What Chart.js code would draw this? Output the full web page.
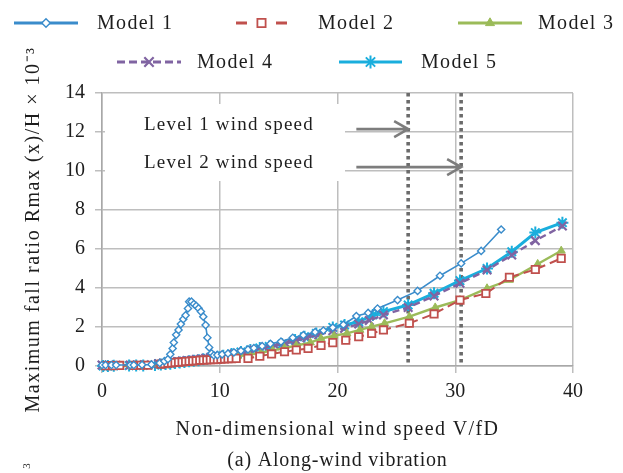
<!DOCTYPE html>
<html><head><meta charset="utf-8">
<script src="https://cdn.jsdelivr.net/npm/chart.js@4.4.1/dist/chart.umd.min.js"></script>
<style>html,body{margin:0;padding:0;background:#fff;}canvas{display:block;}</style>
</head><body>
<canvas id="c" width="623" height="473"></canvas>
<script>
// ---- data ----
const seriesNames = ['Model 1', 'Model 2', 'Model 3', 'Model 4', 'Model 5'];

const model1X = [0.0,0.3,0.8,1.2,2.4,2.7,3.4,4.2,4.9,5.3,5.6,5.8,6.0,6.1,6.3,6.5,6.7,6.9,7.1,7.3,7.4,7.6,7.8,8.0,8.2,8.4,8.6,8.8,8.95,9.1,9.3,9.5,9.8,10.2,10.7,11.2,11.8,12.4,12.9,13.6,14.3,15.2,16.2,17.1,18.1,18.8,19.6,20.5,21.6,22.6,23.4,25.1,26.8,28.7,30.5,32.2,33.9];
const model1Y = [0.05,0.05,0.05,0.05,0.05,0.05,0.06,0.08,0.15,0.25,0.35,0.6,0.9,1.2,1.6,1.85,2.15,2.4,2.6,2.95,3.3,3.3,3.18,3.08,2.96,2.79,2.53,2.1,1.45,0.95,0.65,0.55,0.56,0.6,0.64,0.7,0.78,0.85,0.92,1.02,1.14,1.25,1.45,1.58,1.74,1.82,1.97,2.12,2.56,2.72,2.95,3.38,3.85,4.63,5.26,5.9,7.0];

const model2X = [0.3,0.9,1.5,2.7,3.3,3.9,5.0,5.3,5.6,5.9,6.2,6.5,6.8,7.1,7.4,7.7,8.0,8.3,8.6,8.9,9.2,9.5,9.8,10.1,10.4,10.7,11.0,11.4,12.4,13.4,14.4,15.5,16.5,17.5,18.6,19.6,20.7,21.8,22.9,23.9,26.1,28.2,30.4,32.6,34.6,36.8,39.0];
const model2Y = [0.02,0.02,0.03,0.03,0.04,0.04,0.1,0.12,0.14,0.16,0.18,0.2,0.21,0.23,0.24,0.26,0.27,0.29,0.3,0.31,0.32,0.33,0.34,0.35,0.36,0.37,0.38,0.39,0.39,0.5,0.62,0.73,0.82,0.9,1.05,1.2,1.32,1.5,1.67,1.85,2.19,2.67,3.38,3.72,4.55,4.95,5.52];

const model3X = [0.2,0.8,1.4,2.6,3.2,3.8,5.0,5.4,5.8,6.2,6.6,7.0,7.4,7.8,8.2,8.6,9.0,9.4,9.8,10.2,10.6,11.0,11.5,12.5,13.5,14.5,15.5,16.5,17.7,18.6,19.7,20.8,21.9,22.9,24.0,26.1,28.3,30.4,32.7,34.6,37.0,39.0];
const model3Y = [0.0,0.0,0.0,0.01,0.01,0.02,0.05,0.07,0.09,0.11,0.13,0.15,0.17,0.19,0.21,0.24,0.27,0.3,0.33,0.36,0.4,0.45,0.5,0.58,0.68,0.8,0.92,1.05,1.2,1.41,1.55,1.67,1.85,2.02,2.19,2.53,3.0,3.38,3.98,4.41,5.23,5.91];

const model4X = [0.0,0.6,1.2,2.4,3.0,3.6,4.8,5.2,5.6,6.0,6.4,6.8,7.2,7.6,8.0,8.4,8.8,9.2,9.6,10.0,10.5,11.2,12.0,12.9,13.8,14.7,15.6,16.5,17.4,18.4,19.6,20.6,21.8,22.7,23.9,26.0,28.2,30.4,32.7,34.8,36.8,39.1];
const model4Y = [0.05,0.04,0.04,0.05,0.05,0.06,0.12,0.15,0.18,0.2,0.23,0.25,0.28,0.3,0.33,0.36,0.4,0.43,0.47,0.5,0.55,0.62,0.72,0.82,0.95,1.05,1.15,1.3,1.45,1.6,1.81,1.93,2.15,2.33,2.62,3.0,3.59,4.24,4.92,5.69,6.43,7.18];

const model5X = [0.1,0.5,1.0,2.3,2.9,3.5,4.5,5.0,5.4,5.8,6.2,6.6,7.0,7.4,7.8,8.2,8.6,9.0,9.4,9.8,10.3,11.0,11.8,12.6,13.4,14.2,15.3,16.4,17.2,18.2,19.6,20.6,21.8,23.0,23.9,26.0,28.2,30.4,32.7,34.8,36.8,39.1];
const model5Y = [0.0,0.0,0.01,0.02,0.02,0.03,0.05,0.08,0.1,0.12,0.15,0.18,0.21,0.24,0.27,0.3,0.34,0.38,0.42,0.47,0.52,0.62,0.72,0.82,0.92,1.0,1.12,1.33,1.5,1.67,1.98,2.1,2.27,2.62,2.79,3.13,3.73,4.38,5.0,5.86,6.84,7.35];

const xTickValues = [0, 10, 20, 30, 40];
const yTickValues = [0, 2, 4, 6, 8, 10, 12, 14];
const levelSpeeds = [26.0, 30.5];          // dotted vertical lines
const levelLabels = ['Level 1 wind speed', 'Level 2 wind speed'];
const arrowFrom = 21.6;                     // arrow tail (V/fD)
const arrowAt = [12.15, 10.2];              // arrow height (Rmax)
const xTitle = 'Non-dimensional wind speed V/fD';
const caption = '(a) Along-wind vibration';
const yTitle = 'Maximum fall ratio Rmax (x)/H × 10\u207B\u00B3';

// ---- chart ----
const FONT = '"Liberation Serif", "Times New Roman", serif';
const TXT = '#1d1d1d';
Chart.defaults.font.family = FONT;
Chart.defaults.color = TXT;

const pts = (xs, ys) => xs.map((x, i) => ({x: x, y: ys[i]}));
const styles = [
  {color:'#3A8CCB', pointStyle:'rectRot', radius:3.6, lineWidth:1.6, dash:[], legendDash:[], fill:'#ffffff', pbw:1.4},
  {color:'#C0504D', pointStyle:'rect', radius:5.2, lineWidth:2, dash:[9,5], legendDash:[11,29], fill:'#ffffff', pbw:1.8},
  {color:'#9BBB59', pointStyle:'triangle', radius:4.6, lineWidth:2.4, dash:[], legendDash:[], fill:'#9BBB59', pbw:1},
  {color:'#8064A2', pointStyle:'crossRot', radius:6, lineWidth:2.4, dash:[7,4], legendDash:[8,4], fill:'#8064A2', pbw:2.2},
  {color:'#1AAEDD', pointStyle:'star', radius:6, lineWidth:3, dash:[], legendDash:[], fill:'#1AAEDD', pbw:2}
];
const xs = [model1X, model2X, model3X, model4X, model5X];
const ys = [model1Y, model2Y, model3Y, model4Y, model5Y];

const datasets = seriesNames.map((name, i) => {
  const s = styles[i];
  return {
    label: name,
    data: pts(xs[i], ys[i]),
    showLine: true,
    borderColor: s.color,
    backgroundColor: s.fill,
    borderWidth: s.lineWidth,
    borderDash: s.dash,
    pointStyle: s.pointStyle,
    pointRadius: s.radius,
    pointBorderColor: s.color,
    pointBackgroundColor: s.fill,
    pointBorderWidth: s.pbw,
    pointHoverRadius: s.radius,
    clip: 10,
    tension: 0
  };
});

function spaced(ctx, px) { try { ctx.letterSpacing = px + 'px'; } catch (e) {} }

const annotPlugin = {
  id: 'annot',
  beforeDatasetsDraw(chart) {
    const {ctx, chartArea, scales} = chart;
    const xs_ = scales.x, ys_ = scales.y;
    ctx.save();
    // white label box hiding gridlines
    ctx.fillStyle = '#ffffff';
    ctx.fillRect(chartArea.left + 3, 104, 345 - chartArea.left - 3, 77);
    // dotted level lines
    ctx.strokeStyle = '#6b6b6b';
    ctx.lineWidth = 3.6;
    ctx.setLineDash([3.6, 3.4]);
    levelSpeeds.forEach(v => {
      const px = xs_.getPixelForValue(v);
      ctx.beginPath();
      ctx.moveTo(px, chartArea.top);
      ctx.lineTo(px, chartArea.bottom);
      ctx.stroke();
    });
    ctx.setLineDash([]);
    // arrows + labels
    ctx.strokeStyle = '#7d7d7d';
    ctx.lineWidth = 2.6;
    ctx.font = '19px ' + FONT;
    spaced(ctx, 1.2);
    ctx.fillStyle = TXT;
    ctx.textBaseline = 'middle';
    ctx.textAlign = 'left';
    levelSpeeds.forEach((v, i) => {
      const y = ys_.getPixelForValue(arrowAt[i]);
      const x0 = xs_.getPixelForValue(arrowFrom);
      const x1 = xs_.getPixelForValue(v);
      ctx.beginPath();
      ctx.moveTo(x0, y);
      ctx.lineTo(x1, y);
      ctx.moveTo(x1 - 14, y - 8);
      ctx.lineTo(x1, y);
      ctx.lineTo(x1 - 14, y + 8);
      ctx.stroke();
      ctx.fillText(levelLabels[i], 144, y - 4);
    });
    spaced(ctx, 0);
    ctx.restore();
  },
  afterDraw(chart) {
    const {ctx, chartArea} = chart;
    ctx.save();
    // legend
    const items = [
      {x0:14, x1:78, y:23, tx:97},
      {x0:236, x1:287, y:23, tx:318},
      {x0:458, x1:522, y:23, tx:538},
      {x0:117, x1:181, y:62, tx:197},
      {x0:339, x1:402, y:62, tx:421}
    ];
    items.forEach((it, i) => {
      const s = styles[i];
      ctx.strokeStyle = s.color;
      ctx.lineWidth = Math.max(s.lineWidth, 2.8);
      ctx.setLineDash(s.legendDash);
      ctx.beginPath();
      ctx.moveTo(it.x0, it.y);
      ctx.lineTo(it.x1, it.y);
      ctx.stroke();
      ctx.setLineDash([]);
      ctx.fillStyle = s.fill;
      ctx.strokeStyle = s.color;
      ctx.lineWidth = s.pbw;
      Chart.helpers.drawPoint(ctx, {pointStyle: s.pointStyle, radius: s.radius + 0.6, rotation: 0, borderWidth: s.pbw}, (it.x0 + it.x1) / 2, it.y);
      ctx.fillStyle = TXT;
      ctx.font = '20px ' + FONT;
      spaced(ctx, 1.3);
      ctx.textBaseline = 'middle';
      ctx.textAlign = 'left';
      ctx.fillText(seriesNames[i], it.tx, it.y + 1);
      spaced(ctx, 0);
    });
    // axis titles and caption
    ctx.fillStyle = TXT;
    ctx.font = '20px ' + FONT;
    ctx.textAlign = 'center';
    ctx.textBaseline = 'middle';
    const cx = (chartArea.left + chartArea.right) / 2;
    spaced(ctx, 1.4);
    ctx.fillText(xTitle, cx, 430);
    spaced(ctx, 0.8);
    ctx.fillText(caption, cx, 461);
    ctx.save();
    ctx.translate(34, (chartArea.top + chartArea.bottom) / 2);
    ctx.rotate(-Math.PI / 2);
    spaced(ctx, 1.5);
    ctx.fillText(yTitle, 0, 0);
    ctx.restore();
    spaced(ctx, 0);
    // cropped superscript fragment at lower-left
    ctx.translate(27, 466);
    ctx.rotate(-Math.PI / 2);
    ctx.font = '11px ' + FONT;
    ctx.textAlign = 'center';
    ctx.fillText('3', 0, 0);
    ctx.restore();
  }
};

new Chart(document.getElementById('c'), {
  type: 'scatter',
  data: {datasets},
  options: {
    responsive: false,
    animation: false,
    devicePixelRatio: 1,
    layout: {padding: {top: 93, right: 50, left: 0, bottom: 0}},
    plugins: {legend: {display: false}, tooltip: {enabled: false}},
    scales: {
      x: {
        type: 'linear',
        min: 0, max: 40,
        afterBuildTicks: s => { s.ticks = xTickValues.map(v => ({value: v})); },
        afterFit: s => { s.height = 107; },
        grid: {color: '#BEBEBE', lineWidth: 1.5, tickLength: 7, drawTicks: true},
        border: {display: true, color: '#A8A8A8', width: 1.5},
        ticks: {font: {size: 20}, color: TXT, padding: 7, maxRotation: 0},
        title: {display: false}
      },
      y: {
        type: 'linear',
        min: 0, max: 14,
        afterBuildTicks: s => { s.ticks = yTickValues.map(v => ({value: v})); },
        afterFit: s => { s.width = 102; },
        grid: {color: '#BEBEBE', lineWidth: 1.5, tickLength: 7, drawTicks: true},
        border: {display: true, color: '#A8A8A8', width: 1.5},
        ticks: {font: {size: 20}, color: TXT, padding: 10},
        title: {display: false}
      }
    }
  },
  plugins: [annotPlugin]
});
</script>
</body></html>
